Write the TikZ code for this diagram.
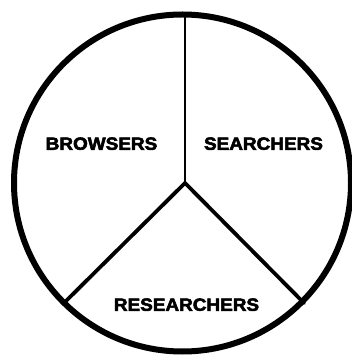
\documentclass[tikz,border=0pt]{standalone}
\usepackage{fontspec}
\setmainfont[FakeStretch=1.08]{Liberation Sans}
\newfontfamily\heavyfont[FakeStretch=1.07,FakeBold=3]{Liberation Sans Bold}
\begin{document}
\begin{tikzpicture}[x=1pt,y=1pt,
  lbl/.style={font=\heavyfont\fontsize{17.7}{20}\selectfont, inner sep=0pt, anchor=center},
  spoke/.style={line width=3.8pt, line cap=round}]
\useasboundingbox (0,0) rectangle (352,356);
\coordinate (c) at (182.5,173);
\coordinate (v) at (185,173);
\coordinate (top) at (185,342);
\coordinate (bl) at (65,54);
\coordinate (br) at (304,53);
\draw[line width=2.2pt] (v) -- (top);
\draw[spoke] (bl) -- (v) -- (br);
\draw[line width=6pt] (c) circle (168.5);
\node[lbl] (browsers) at (101.5,212.3) {BROWSERS};
\node[lbl] (searchers) at (263.5,212.3) {SEARCHERS};
\node[lbl] (researchers) at (186.5,51.3) {RESEARCHERS};
\end{tikzpicture}
\end{document}
